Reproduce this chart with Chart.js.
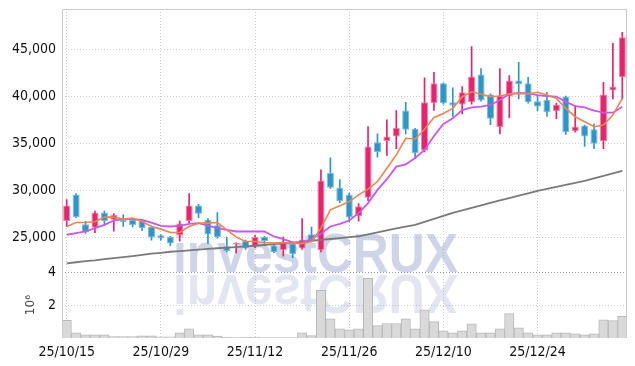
<!DOCTYPE html>
<html><head><meta charset="utf-8">
<script src="https://cdn.jsdelivr.net/npm/chart.js@4/dist/chart.umd.min.js"></script>
<style>html,body{margin:0;padding:0;background:#fff;}#wrap{width:635px;height:366px;position:relative;}</style>
</head><body><div id="wrap"><canvas id="c" width="635" height="366"></canvas></div>
<script>
const dates = ['25/10/15','25/10/16','25/10/17','25/10/20','25/10/21','25/10/22','25/10/23','25/10/24','25/10/27','25/10/28',
'25/10/29','25/10/30','25/10/31','25/11/03','25/11/04','25/11/05','25/11/06','25/11/07','25/11/10','25/11/11',
'25/11/12','25/11/13','25/11/14','25/11/17','25/11/18','25/11/19','25/11/20','25/11/21','25/11/24','25/11/25',
'25/11/26','25/11/27','25/11/28','25/12/01','25/12/02','25/12/03','25/12/04','25/12/05','25/12/08','25/12/09',
'25/12/10','25/12/11','25/12/12','25/12/15','25/12/16','25/12/17','25/12/18','25/12/19','25/12/22','25/12/23',
'25/12/24','25/12/26','25/12/29','25/12/30','26/01/02','26/01/05','26/01/06','26/01/07','26/01/08','26/01/09'];
const xTickLabels = ['25/10/15','25/10/29','25/11/12','25/11/26','25/12/10','25/12/24'];
const priceTicks = [25000,30000,35000,40000,45000];
const volumeTicks = [2000000,4000000];

const opens  = [26730,29570,26380,26030,27630,26880,26880,26880,26800,26100,25210,25030,25210,26730,28400,26880,26280,24040,24220,24600,
24040,25030,24150,23620,24330,23800,25320,23620,31840,30290,29570,27230,29220,35140,35250,35740,38510,36560,34250,39290,
41410,39390,39150,39390,42340,40210,36730,40000,41700,41410,39500,39650,38440,40000,36300,36910,36520,35240,40640,42050];
const highs  = [29010,29650,26700,27800,27800,27520,27400,26950,26900,26200,25300,25100,26730,29650,28500,27000,27630,25030,24400,24700,
25210,25100,24400,25030,24500,26990,26100,32200,33480,31140,29700,28590,36810,36030,37520,38510,39390,36600,41990,42590,
41450,40930,41060,45320,42980,40300,42980,42230,43650,42050,40000,40460,39300,40050,39040,36950,37100,41520,45670,46840];
const lows   = [26170,27100,25400,25500,26300,25640,26150,26100,25700,24700,24700,24100,24600,26500,27100,24330,24900,23440,23330,23700,
23900,24150,23350,22980,22840,23700,24500,23440,30200,28700,26630,26730,28900,33540,33720,34440,36030,33370,34100,38510,
39200,37870,38160,39200,39500,36990,36030,37730,39750,39300,38500,37870,37630,35960,36200,34680,34440,34440,39750,39750];
const closes = [28400,27160,25560,27630,26730,27410,26630,26280,25990,24970,24890,24330,26460,28400,27520,25290,25030,23540,24390,23800,
25030,24610,23440,24500,23190,24760,24680,31060,30290,28860,27100,28300,34680,34080,35740,36670,36460,33970,39390,41410,
39290,39040,40460,42130,39570,37630,40110,41700,41350,39390,38940,38330,39150,36200,36810,35740,34970,40210,41060,46310];
const volumes = [1070000,320000,200000,200000,200000,80000,80000,80000,130000,130000,70000,70000,320000,550000,200000,190000,120000,50000,30000,50000,
50000,30000,20000,20000,20000,320000,140000,2900000,1170000,550000,500000,550000,3630000,750000,880000,880000,1170000,550000,1720000,1000000,
440000,320000,440000,860000,320000,320000,550000,1480000,620000,320000,190000,190000,320000,320000,260000,190000,260000,1100000,1060000,1320000];
const ma5 = [26150,26570,26570,26650,27150,27150,26940,27040,26680,26150,25870,25510,25510,26150,26510,26510,26570,25800,25020,24550,
24550,24450,24380,24450,24380,24310,24550,25980,27930,28350,28810,29520,30130,30940,32360,33780,35550,35480,36510,37770,
38190,38740,39980,40510,40270,39980,40050,40270,40340,40270,40450,40160,39810,38740,37850,37320,36790,36970,38030,39810];
const ma20 = [25270,25450,25620,25980,26330,26790,26940,26940,26860,26570,26220,26150,26220,26440,26510,26250,25980,25800,25620,25620,
25620,25620,25090,24810,24450,24380,24840,25370,26150,26440,26790,27570,28640,30050,31190,32530,32770,33460,34310,35800,
37070,37680,38560,38850,38920,39100,39630,40270,40400,40340,40160,40050,39980,39450,38990,38850,38490,38280,38280,38920];
const ma120 = [22230,22340,22450,22550,22680,22790,22890,23000,23120,23250,23350,23460,23530,23610,23690,23770,23830,23890,23960,24030,
24100,24180,24270,24350,24440,24520,24630,24730,24820,24920,25010,25110,25320,25530,25750,25960,26140,26330,26650,26970,
27290,27610,27870,28140,28400,28670,28930,29180,29440,29690,29950,30160,30370,30590,30800,31010,31280,31540,31810,32070];

const UP = '#e8226b', DOWN = '#2d96c8';
const isUp = closes.map((c,i)=>c>=opens[i]);
const candleColors = isUp.map(u=>u?UP:DOWN);
const candleBorders = isUp.map(u=>u?'rgba(240,120,160,0.9)':'rgba(110,180,215,0.9)');
const bodies = opens.map((o,i)=>[o, closes[i]]);
const wicks = lows.map((l,i)=>[l, highs[i]]);

const FONT = "'Liberation Sans Narrow', 'DejaVu Sans Condensed', 'Liberation Sans', sans-serif";
const GRID = '#c9cce0';

function noPad(s){ s.paddingTop = 0; s.paddingBottom = 0; s.paddingLeft = 0; s.paddingRight = 0; }

const watermark = {
  id:'watermark',
  beforeDatasetsDraw(chart){
    const ctx = chart.ctx;
    const text = 'investCRUX';
    ctx.save();
    ctx.font = "bold 56px 'Liberation Sans', sans-serif";
    const w = ctx.measureText(text).width;
    const sx = 285 / w;
    const x0 = 173, base = 272;
    ctx.translate(x0, base);
    ctx.scale(sx, 1);
    ctx.textBaseline = 'alphabetic';
    ctx.fillStyle = 'rgba(150,160,205,0.45)';
    ctx.fillText(text, 0, 0);
    ctx.scale(1, -1);
    ctx.fillStyle = 'rgba(150,160,205,0.27)';
    ctx.fillText(text, 0, -3);
    ctx.restore();
  }
};
const frame = {
  id:'frame',
  afterDatasetsDraw(chart){
    const {ctx, chartArea:a} = chart;
    ctx.save();
    ctx.strokeStyle = '#cccccc';
    ctx.lineWidth = 1;
    ctx.beginPath();
    ctx.moveTo(a.left+0.5, a.bottom); ctx.lineTo(a.left+0.5, a.top+0.5);
    ctx.lineTo(a.right-0.5, a.top+0.5); ctx.lineTo(a.right-0.5, a.bottom);
    ctx.stroke();
    ctx.restore();
  }
};

new Chart(document.getElementById('c'), {
  type:'bar',
  data:{
    labels: dates,
    datasets:[
      {type:'line', label:'MA5', data:ma5, borderColor:'#f0844c', borderWidth:1.6, pointRadius:0, tension:0, yAxisID:'y', order:0},
      {type:'line', label:'MA20', data:ma20, borderColor:'#cc55ee', borderWidth:1.8, pointRadius:0, tension:0, yAxisID:'y', order:0},
      {type:'line', label:'MA120', data:ma120, borderColor:'#7a7a7a', borderWidth:1.8, pointRadius:0, tension:0, yAxisID:'y', order:0},
      {label:'body', data:bodies, backgroundColor:candleColors, borderColor:candleBorders, borderWidth:1, borderSkipped:false,
        barPercentage:0.75, categoryPercentage:1, grouped:false, yAxisID:'y', order:1},
      {label:'wick', data:wicks, backgroundColor:candleColors, barThickness:1, grouped:false, yAxisID:'y', order:2},
      {label:'volume', data:volumes, backgroundColor:'#d9d9d9', borderColor:'#b8b8b8', borderWidth:1, borderSkipped:'bottom',
        barPercentage:1, categoryPercentage:1, grouped:false, yAxisID:'yv', order:3}
    ]
  },
  options:{
    responsive:false, animation:false, devicePixelRatio:1,
    layout:{padding:{top:9,right:8,left:0,bottom:0}},
    plugins:{legend:{display:false}, tooltip:{enabled:false}},
    scales:{
      x:{
        offset:true,
        grid:{offset:false, color:GRID, drawTicks:false},
        border:{display:false, dash:[1,2]},
        ticks:{autoSkip:false, maxRotation:0, padding:6, color:'#111', font:{family:FONT, size:14},
          callback(v,i){ return xTickLabels.includes(dates[i]) ? dates[i] : null; }},
        afterFit(s){ s.height = 28; noPad(s); }
      },
      y:{
        position:'left', stack:'p', stackWeight:4, weight:2,
        min:21280, max:49330,
        afterBuildTicks(s){ s.ticks = priceTicks.map(v=>({value:v})); },
        grid:{color:GRID, drawTicks:false},
        border:{display:false, dash:[1,2]},
        ticks:{padding:6, color:'#111', font:{family:FONT, size:14}, callback:v=>Number(v).toLocaleString('en-US')},
        afterFit(s){ s.width = 62; noPad(s); }
      },
      yv:{
        position:'left', stack:'p', stackWeight:1, weight:1,
        min:0, max:4000000,
        afterBuildTicks(s){ s.ticks = volumeTicks.map(v=>({value:v})); },
        grid:{color:(c)=> (c.tick && c.tick.value===4000000) ? '#9a9a9a' : GRID, drawTicks:false},
        border:{display:false, dash:[1,2]},
        ticks:{padding:6, color:'#111', font:{family:FONT, size:14}, callback:v=>String(v/1000000)},
        title:{display:true, text:'10⁶', color:'#444', font:{family:"'DejaVu Sans', sans-serif", size:12}, padding:{top:24,bottom:0}},
        afterFit(s){ s.width = 62; noPad(s); }
      }
    }
  },
  plugins:[watermark, frame]
});
</script></body></html>
